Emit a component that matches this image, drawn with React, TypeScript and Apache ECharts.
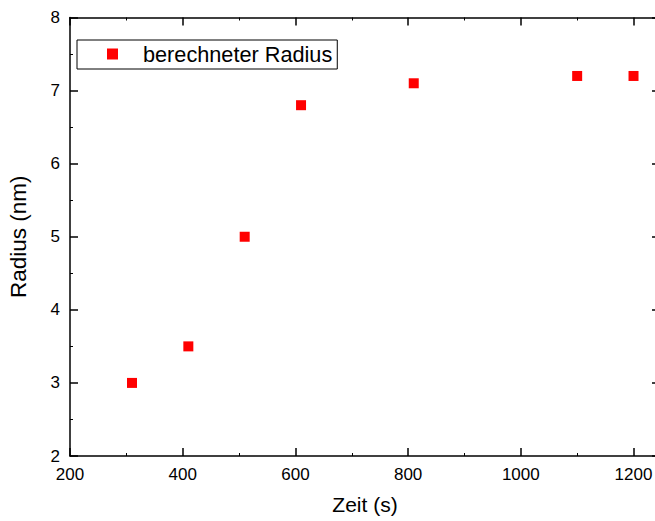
import React, { useEffect, useRef } from "react";
import * as echarts from "echarts";

const zeit = [310, 410, 510, 610, 810, 1100, 1200];
const radius = [3.0, 3.5, 5.0, 6.8, 7.1, 7.2, 7.2];
const seriesName = "berechneter Radius";

const FONT = "Liberation Sans, Arial, sans-serif";

export default function App() {
  const ref = useRef<HTMLDivElement>(null);
  useEffect(() => {
    const chart = echarts.init(ref.current!, null, { renderer: "svg" });
    const axisLine = { show: true, onZero: false, lineStyle: { color: "#000", width: 1.5 } };
    const axisTick = { show: true, inside: true, length: 8, lineStyle: { color: "#000", width: 1.5 } };
    const minorTick = { show: true, splitNumber: 2, length: 3, lineStyle: { color: "#000", width: 1 } };
    chart.setOption({
      animation: false,
      backgroundColor: "#fff",
      grid: {
        left: 70,
        top: 17.5,
        width: 590,
        height: 438.5,
        containLabel: false,
        outerBoundsMode: "none",
      },
      legend: {
        left: 77,
        top: 40,
        padding: [3, 5, 4, 30],
        borderColor: "#000",
        borderWidth: 1,
        itemWidth: 11,
        itemHeight: 11,
        icon: "rect",
        textStyle: {
          fontSize: 21.7,
          lineHeight: 22,
          fontFamily: FONT,
          color: "#000",
          padding: [0, 0, 0, 20],
        },
        data: [seriesName],
      },
      xAxis: [
        {
          type: "value",
          min: 200,
          max: 1247,
          interval: 200,
          position: "bottom",
          name: "Zeit (s)",
          nameLocation: "middle",
          nameGap: 38,
          nameTextStyle: { fontSize: 21, fontFamily: FONT, color: "#000" },
          axisLine,
          axisTick,
          minorTick,
          splitLine: { show: false },
          axisLabel: {
            fontSize: 17,
            fontFamily: FONT,
            color: "#000",
            margin: 10,
            showMaxLabel: false,
            formatter: (v: number) => (v % 200 === 0 ? String(v) : ""),
          },
        },
        {
          type: "value",
          min: 200,
          max: 1247,
          interval: 200,
          position: "top",
          axisLine,
          axisTick,
          minorTick,
          splitLine: { show: false },
          axisLabel: { show: false },
        },
      ],
      yAxis: [
        {
          type: "value",
          min: 2,
          max: 8,
          interval: 1,
          position: "left",
          name: "Radius (nm)",
          nameLocation: "middle",
          nameGap: 40,
          nameTextStyle: { fontSize: 22.5, fontFamily: FONT, color: "#000" },
          axisLine,
          axisTick,
          minorTick,
          splitLine: { show: false },
          axisLabel: { fontSize: 17, fontFamily: FONT, color: "#000", margin: 10 },
        },
        {
          type: "value",
          min: 2,
          max: 8,
          interval: 1,
          position: "right",
          axisLine,
          axisTick,
          minorTick,
          splitLine: { show: false },
          axisLabel: { show: false },
        },
      ],
      series: [
        {
          name: seriesName,
          type: "scatter",
          symbol: "rect",
          symbolSize: 10,
          itemStyle: { color: "#ff0000", opacity: 1 },
          data: zeit.map((x, i) => [x, radius[i]]),
        },
      ],
    });
    return () => chart.dispose();
  }, []);
  return (
    <div
      ref={ref}
      style={{ position: "fixed", left: 0, top: 0, width: 655, height: 521, background: "#fff" }}
    />
  );
}
